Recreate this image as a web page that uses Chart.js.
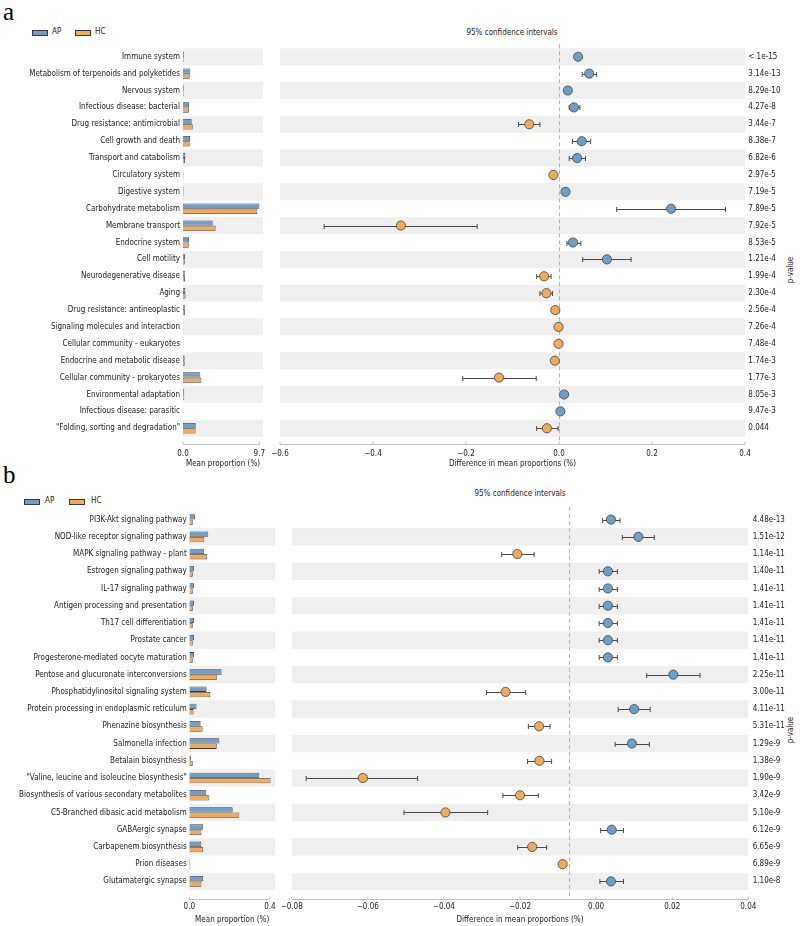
<!DOCTYPE html>
<html>
<head>
<meta charset="utf-8">
<script src="https://cdn.jsdelivr.net/npm/chart.js@4.4.1/dist/chart.umd.min.js"></script>
<style>
  body { margin: 0; background: #fff; width: 800px; height: 926px; position: relative; overflow: hidden;
         font-family: 'DejaVu Sans Condensed', 'Liberation Sans', sans-serif; color: #222; }
  .wrap { position: absolute; }
  .tag { position: absolute; font-family: 'Liberation Serif', serif; font-size: 25px; line-height: 1; color: #000; }
  .txt { position: absolute; font-size: 8px; line-height: 1; white-space: nowrap; transform: translate(-50%, -50%); }
  .rot { position: absolute; font-size: 8px; line-height: 1; white-space: nowrap; transform: translate(-50%, -50%) rotate(-90deg); }
  .sw { position: absolute; width: 14px; height: 4px; border: 1px solid #3a3a3a; }
  .lab { position: absolute; font-size: 8px; line-height: 1; transform: translateY(-50%); }
</style>
</head>
<body>
<div class="tag" style="left:3px;top:-1px">a</div>
<div class="sw" style="left:32px;top:29.5px;background:#6f9fc8"></div><div class="lab" style="left:52px;top:32px">AP</div>
<div class="sw" style="left:75px;top:29.5px;background:#f5a955"></div><div class="lab" style="left:95px;top:32px">HC</div>
<div class="txt" style="left:512px;top:33px">95% confidence intervals</div>
<div class="rot" style="left:791px;top:270px">p-value</div>

<div class="tag" style="left:3px;top:462px">b</div>
<div class="sw" style="left:24px;top:499px;background:#6f9fc8"></div><div class="lab" style="left:45px;top:501.3px">AP</div>
<div class="sw" style="left:69px;top:499px;background:#f5a955"></div><div class="lab" style="left:91px;top:501.3px">HC</div>
<div class="txt" style="left:520px;top:494px">95% confidence intervals</div>
<div class="rot" style="left:791px;top:730px">p-value</div>

<div class="wrap" style="left:0;top:0"><canvas id="barA" width="272" height="480"></canvas></div>
<div class="wrap" style="left:270px;top:0"><canvas id="ciA" width="530" height="480"></canvas></div>
<div class="wrap" style="left:0;top:480px"><canvas id="barB" width="280" height="446"></canvas></div>
<div class="wrap" style="left:280px;top:480px"><canvas id="ciB" width="520" height="446"></canvas></div>

<script>
// ---------- panel a : KEGG level 2 ----------
const catsA = ['Immune system', 'Metabolism of terpenoids and polyketides', 'Nervous system',
  'Infectious disease: bacterial', 'Drug resistance: antimicrobial', 'Cell growth and death',
  'Transport and catabolism', 'Circulatory system', 'Digestive system', 'Carbohydrate metabolism',
  'Membrane transport', 'Endocrine system', 'Cell motility', 'Neurodegenerative disease', 'Aging',
  'Drug resistance: antineoplastic', 'Signaling molecules and interaction', 'Cellular community - eukaryotes',
  'Endocrine and metabolic disease', 'Cellular community - prokaryotes', 'Environmental adaptation',
  'Infectious disease: parasitic', '"Folding, sorting and degradation"'];
const apA = [0.12, 0.93, 0.10, 0.76, 1.10, 0.89, 0.30, 0.05, 0.07, 9.70, 3.77, 0.76, 0.25, 0.22, 0.30, 0.22, 0.03, 0.02, 0.20, 2.20, 0.15, 0.02, 1.61];
const hcA = [0.09, 0.85, 0.08, 0.74, 1.23, 0.85, 0.25, 0.06, 0.06, 9.45, 4.15, 0.73, 0.22, 0.25, 0.33, 0.23, 0.03, 0.02, 0.21, 2.33, 0.16, 0.02, 1.60];
const diffA = [0.041, 0.065, 0.019, 0.032, -0.064, 0.049, 0.039, -0.012, 0.014, 0.241, -0.340, 0.030, 0.103, -0.032, -0.027, -0.008, -0.001, -0.001, -0.009, -0.129, 0.011, 0.003, -0.026];
const lowA = [0.037, 0.050, 0.016, 0.022, -0.087, 0.029, 0.022, -0.015, 0.011, 0.124, -0.505, 0.017, 0.051, -0.048, -0.041, -0.011, -0.003, -0.003, -0.012, -0.207, 0.008, 0.001, -0.048];
const highA = [0.045, 0.081, 0.022, 0.045, -0.041, 0.068, 0.057, -0.009, 0.017, 0.358, -0.176, 0.047, 0.155, -0.017, -0.014, -0.005, 0.001, 0.001, -0.006, -0.049, 0.014, 0.005, -0.002];
const pA = ['< 1e-15', '3.14e-13', '8.29e-10', '4.27e-8', '3.44e-7', '8.38e-7', '6.82e-6', '2.97e-5', '7.19e-5',
  '7.89e-5', '7.92e-5', '8.53e-5', '1.21e-4', '1.99e-4', '2.30e-4', '2.56e-4', '7.26e-4', '7.48e-4', '1.74e-3',
  '1.77e-3', '8.05e-3', '9.47e-3', '0.044'];
const barTicksA = [0, 9.7];
const ciTicksA = [-0.6, -0.4, -0.2, 0.0, 0.2, 0.4];

// ---------- panel b : KEGG level 3 ----------
const catsB = ['PI3K-Akt signaling pathway', 'NOD-like receptor signaling pathway', 'MAPK signaling pathway - plant',
  'Estrogen signaling pathway', 'IL-17 signaling pathway', 'Antigen processing and presentation',
  'Th17 cell differentiation', 'Prostate cancer', 'Progesterone-mediated oocyte maturation',
  'Pentose and glucuronate interconversions', 'Phosphatidylinositol signaling system',
  'Protein processing in endoplasmic reticulum', 'Phenazine biosynthesis', 'Salmonella infection',
  'Betalain biosynthesis', '"Valine, leucine and isoleucine biosynthesis"', 'Biosynthesis of various secondary metabolites',
  'C5-Branched dibasic acid metabolism', 'GABAergic synapse', 'Carbapenem biosynthesis', 'Prion diseases',
  'Glutamatergic synapse'];
const apB = [0.028, 0.094, 0.074, 0.023, 0.023, 0.023, 0.023, 0.023, 0.023, 0.160, 0.086, 0.036, 0.056, 0.149, 0.008, 0.347, 0.084, 0.215, 0.069, 0.060, 0.004, 0.069];
const hcB = [0.017, 0.074, 0.089, 0.017, 0.017, 0.017, 0.017, 0.017, 0.017, 0.136, 0.104, 0.021, 0.066, 0.136, 0.017, 0.403, 0.099, 0.248, 0.060, 0.069, 0.005, 0.060];
const diffB = [0.0039, 0.0111, -0.0207, 0.0031, 0.0031, 0.0031, 0.0031, 0.0031, 0.0031, 0.0203, -0.0238, 0.0100, -0.0150, 0.0094, -0.0149, -0.0613, -0.0200, -0.0396, 0.0041, -0.0168, -0.0088, 0.0039];
const lowB = [0.0017, 0.0069, -0.0248, 0.0008, 0.0008, 0.0008, 0.0008, 0.0008, 0.0008, 0.0133, -0.0288, 0.0058, -0.0178, 0.0050, -0.0180, -0.0762, -0.0245, -0.0505, 0.0012, -0.0206, -0.0090, 0.0010];
const highB = [0.0063, 0.0153, -0.0163, 0.0056, 0.0056, 0.0056, 0.0056, 0.0056, 0.0056, 0.0273, -0.0185, 0.0142, -0.0121, 0.0140, -0.0117, -0.0469, -0.0152, -0.0285, 0.0072, -0.0130, -0.0086, 0.0072];
const pB = ['4.48e-13', '1.51e-12', '1.14e-11', '1.40e-11', '1.41e-11', '1.41e-11', '1.41e-11', '1.41e-11', '1.41e-11',
  '2.25e-11', '3.00e-11', '4.11e-11', '5.31e-11', '1.29e-9', '1.38e-9', '1.90e-9', '3.42e-9', '5.10e-9', '6.12e-9',
  '6.65e-9', '6.89e-9', '1.10e-8'];
const barTicksB = [0, 0.4];
const ciTicksB = [-0.08, -0.06, -0.04, -0.02, 0.00, 0.02, 0.04];

const AP_COLOR = '#6f9fc8';
const HC_COLOR = '#f5a955';
const BAND = '#efefef';
const AXIS = '#c4c4c4';

Chart.defaults.font.family = "'DejaVu Sans Condensed', 'Liberation Sans', sans-serif";
Chart.defaults.font.size = 8;
Chart.defaults.color = '#222';

const minus = (s) => s.replace('-', '\u2212');

// faixas cinzas alternadas atrás de cada linha
const rowBands = {
  id: 'rowBands',
  beforeDatasetsDraw(chart, args, opts) {
    const { ctx, chartArea: a, scales: { y } } = chart;
    const n = y.getLabels().length;
    const h = (a.bottom - a.top) / n;
    ctx.save();
    ctx.fillStyle = BAND;
    for (let i = 0; i < n; i++) {
      if (i % 2 !== opts.parity) continue;
      const yc = y.getPixelForValue(i);
      ctx.fillRect(a.left, yc - h / 2, a.right - a.left, h);
    }
    ctx.restore();
  }
};

// eixo x deslocado, estilo matplotlib, ticks para cima
const spine = {
  id: 'spine',
  afterDraw(chart, args, opts) {
    const { ctx, chartArea: a, scales: { x } } = chart;
    const yy = Math.round(a.bottom + opts.gap) + 0.5;
    const x0 = x.getPixelForValue(opts.from), x1 = x.getPixelForValue(opts.to);
    ctx.save();
    ctx.strokeStyle = AXIS;
    ctx.lineWidth = 1;
    ctx.beginPath();
    ctx.moveTo(x0, yy); ctx.lineTo(x1, yy);
    x.ticks.forEach(t => {
      const px = x.getPixelForValue(t.value);
      ctx.moveTo(px, yy); ctx.lineTo(px, yy - 3);
    });
    ctx.stroke();
    ctx.restore();
  }
};

// linha tracejada de referência + barras de erro (IC 95%)
const ciMarks = {
  id: 'ciMarks',
  beforeDatasetsDraw(chart, args, opts) {
    const { ctx, chartArea: a, scales: { x, y } } = chart;
    const ds = chart.data.datasets[0];
    ctx.save();
    const rx = Math.round(x.getPixelForValue(opts.ref)) + 0.5;
    ctx.strokeStyle = '#b4b4b4';
    ctx.lineWidth = 1;
    ctx.setLineDash([4, 3]);
    ctx.beginPath();
    ctx.moveTo(rx, a.top - 4); ctx.lineTo(rx, a.bottom + opts.gap);
    ctx.stroke();
    ctx.setLineDash([]);
    ctx.strokeStyle = '#4a4a4a';
    ctx.beginPath();
    ds.ciLow.forEach((lo, i) => {
      const yc = Math.round(y.getPixelForValue(i)) + 0.5;
      const p0 = x.getPixelForValue(lo), p1 = x.getPixelForValue(ds.ciHigh[i]);
      ctx.moveTo(p0, yc); ctx.lineTo(p1, yc);
      ctx.moveTo(p0, yc - 2.5); ctx.lineTo(p0, yc + 2.5);
      ctx.moveTo(p1, yc - 2.5); ctx.lineTo(p1, yc + 2.5);
    });
    ctx.stroke();
    ctx.restore();
  }
};

// tamanho fixo do eixo x, sem a folga automática das labels das pontas
const fixX = (h) => (s) => { s.height = h; s.paddingLeft = 0; s.paddingRight = 0; };
const fixY = (w) => (s) => { s.width = w; s.paddingTop = 0; s.paddingBottom = 0; };

const buildBar = (id, g) => new Chart(document.getElementById(id), {
  type: 'bar',
  data: {
    labels: g.cats,
    datasets: [
      { label: 'AP', data: g.ap, backgroundColor: AP_COLOR, borderColor: '#3a3a3a', borderWidth: 0.8,
        categoryPercentage: 0.62, barPercentage: 1.0 },
      { label: 'HC', data: g.hc, backgroundColor: HC_COLOR, borderColor: '#3a3a3a', borderWidth: 0.8,
        categoryPercentage: 0.62, barPercentage: 1.0 }
    ]
  },
  plugins: [rowBands, spine],
  options: {
    indexAxis: 'y',
    responsive: false,
    animation: false,
    layout: { padding: { top: g.top, left: 0, right: g.right, bottom: 0 } },
    scales: {
      y: {
        grid: { display: false, drawTicks: false }, border: { display: false },
        ticks: { padding: g.labelGap, autoSkip: false },
        afterFit: fixY(g.labelWidth)
      },
      x: {
        min: 0, max: g.max,
        grid: { display: false, drawTicks: false }, border: { display: false },
        afterBuildTicks: (s) => { s.ticks = g.ticks.map(v => ({ value: v })); },
        ticks: { padding: g.tickPad, maxRotation: 0, callback: (v) => v.toFixed(1) },
        title: { display: true, text: 'Mean proportion (%)', padding: { top: 0, bottom: g.titlePad } },
        afterFit: fixX(g.axisH)
      }
    },
    plugins: {
      legend: { display: false },
      tooltip: { enabled: false },
      rowBands: { parity: g.parity },
      spine: { gap: g.gap, from: 0, to: g.ticks[g.ticks.length - 1] }
    }
  }
});

const buildCI = (id, g) => new Chart(document.getElementById(id), {
  type: 'scatter',
  data: {
    datasets: [{
      data: g.diff.map((v, i) => ({ x: v, y: i })),
      ciLow: g.low, ciHigh: g.high,
      backgroundColor: (c) => (c.raw && c.raw.x < 0 ? HC_COLOR : AP_COLOR),
      borderColor: '#444', borderWidth: 0.8,
      pointRadius: 4.6, pointHoverRadius: 4.6
    }]
  },
  plugins: [rowBands, ciMarks, spine],
  options: {
    responsive: false,
    animation: false,
    layout: { padding: { top: g.top, left: g.left, right: 0, bottom: 0 } },
    scales: {
      y: {
        type: 'category', labels: g.pvals, position: 'right', offset: true,
        grid: { display: false, drawTicks: false }, border: { display: false },
        ticks: { padding: g.labelGap, autoSkip: false },
        afterFit: fixY(g.labelWidth)
      },
      x: {
        type: 'linear', min: g.ticks[0], max: g.ticks[g.ticks.length - 1],
        grid: { display: false, drawTicks: false }, border: { display: false },
        afterBuildTicks: (s) => { s.ticks = g.ticks.map(v => ({ value: v })); },
        ticks: { padding: g.tickPad, maxRotation: 0,
                 callback: (v) => minus((Math.abs(v) < 1e-9 ? 0 : v).toFixed(g.digits)) },
        title: { display: true, text: 'Difference in mean proportions (%)', padding: { top: 0, bottom: g.titlePad } },
        afterFit: fixX(g.axisH)
      }
    },
    plugins: {
      legend: { display: false },
      tooltip: { enabled: false },
      rowBands: { parity: g.parity },
      ciMarks: { ref: g.ref, gap: g.gap },
      spine: { gap: g.gap, from: g.ticks[0], to: g.ticks[g.ticks.length - 1] }
    }
  }
});

buildBar('barA', { cats: catsA, ap: apA, hc: hcA, ticks: barTicksA, max: 10.17, top: 48.3, right: 9,
  labelWidth: 183, labelGap: 3, axisH: 43.3, tickPad: 12, titlePad: 11, gap: 7.3, parity: 0 });
buildCI('ciA', { diff: diffA, low: lowA, high: highA, pvals: pA, ticks: ciTicksA, digits: 1, ref: 0,
  top: 48.3, left: 10, labelWidth: 55, labelGap: 3.3, axisH: 43.3, tickPad: 12, titlePad: 11, gap: 7.3, parity: 0 });

buildBar('barB', { cats: catsB, ap: apB, hc: hcB, ticks: barTicksB, max: 0.425, top: 31, right: 5,
  labelWidth: 189.3, labelGap: 2.6, axisH: 36, tickPad: 12.5, titlePad: 1.5, gap: 9, parity: 1 });
buildCI('ciB', { diff: diffB, low: lowB, high: highB, pvals: pB, ticks: ciTicksB, digits: 2, ref: -0.007,
  top: 31, left: 11.7, labelWidth: 51.7, labelGap: 4.4, axisH: 36, tickPad: 12.5, titlePad: 1.5, gap: 9, parity: 1 });
</script>
</body>
</html>
